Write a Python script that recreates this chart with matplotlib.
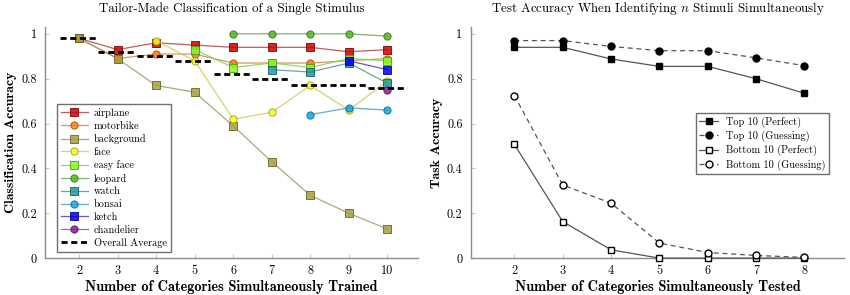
import numpy as np
import matplotlib
matplotlib.use("Agg")
import matplotlib.pyplot as plt
from matplotlib.colors import to_rgb

plt.rcParams["font.family"] = "cmr10"
plt.rcParams["mathtext.fontset"] = "cm"
plt.rcParams["axes.formatter.use_mathtext"] = True

# ---- left panel data ----
names = ["airplane", "motorbike", "background", "face", "easy face",
         "leopard", "watch", "bonsai", "ketch", "chandelier"]
start_at = [2, 2, 2, 4, 5, 6, 7, 8, 9, 10]
airplane = [0.98, 0.93, 0.96, 0.95, 0.94, 0.94, 0.94, 0.92, 0.93]
motorbike = [0.98, 0.89, 0.91, 0.91, 0.87, 0.87, 0.87, 0.88, 0.89]
background = [0.98, 0.89, 0.77, 0.74, 0.59, 0.43, 0.28, 0.20, 0.13]
face = [0.97, 0.88, 0.62, 0.65, 0.77, 0.66, 0.79]
easy_face = [0.93, 0.85, 0.87, 0.85, 0.89, 0.88]
leopard = [1.00, 1.00, 1.00, 1.00, 0.99]
watch = [0.84, 0.83, 0.87, 0.78]
bonsai = [0.64, 0.67, 0.66]
ketch = [0.88, 0.84]
chandelier = [0.75]
series = [airplane, motorbike, background, face, easy_face,
          leopard, watch, bonsai, ketch, chandelier]
markers = ["s", "o", "s", "o", "s", "o", "s", "o", "s", "o"]
colors = ["#d00000", "#ff7f0e", "#a8a040", "#ffff20", "#80ff20",
          "#50b820", "#239a9a", "#10a8e8", "#0000f0", "#8a1a9a"]
trained = [2, 3, 4, 5, 6, 7, 8, 9, 10]
overall_avg = [0.98, 0.92, 0.90, 0.88, 0.82, 0.80, 0.77, 0.77, 0.76]

# ---- right panel data ----
tested = [2, 3, 4, 5, 6, 7, 8]
top_perfect = [0.94, 0.94, 0.888, 0.855, 0.855, 0.80, 0.735]
top_guess = [0.97, 0.97, 0.944, 0.925, 0.925, 0.893, 0.858]
bot_perfect = [0.507, 0.163, 0.037, 0.0, 0.0, 0.0, 0.0]
bot_guess = [0.725, 0.326, 0.245, 0.067, 0.025, 0.012, 0.003]

yticks = [0, 0.2, 0.4, 0.6, 0.8, 1]
ytick_labels = ["0", "0.2", "0.4", "0.6", "0.8", "1"]


def mix(c, other, t):
    a = np.array(to_rgb(c))
    b = np.array(to_rgb(other))
    return tuple(a * (1 - t) + b * t)


def style_axes(ax, xt):
    for s in ("top", "right"):
        ax.spines[s].set_visible(False)
    for s in ("left", "bottom"):
        ax.spines[s].set_color("#8c8c8c")
        ax.spines[s].set_linewidth(1.0)
    ax.set_xticks(xt)
    ax.set_xticklabels([str(v) for v in xt])
    ax.set_yticks(yticks)
    ax.set_yticklabels(ytick_labels)
    ax.tick_params(direction="in", length=3, color="#c8c8c8",
                   labelsize=8.8)
    ax.tick_params(axis="y", pad=6)
    ax.tick_params(axis="x", pad=5)
    ax.set_ylim(0, 1.03)
    ax.yaxis.set_label_coords(-0.076, 0.5)


fig = plt.figure(figsize=(8.5, 2.95), dpi=100)
ax1 = fig.add_axes([0.053, 0.125, 0.439, 0.783])
ax2 = fig.add_axes([0.554, 0.125, 0.439, 0.783])

# left
for name, st, vals, m, c in zip(names, start_at, series, markers, colors):
    xs = list(range(st, st + len(vals)))
    ax1.plot(xs, vals, color=mix(c, "#909090", 0.45), lw=0.9, alpha=0.85,
             marker=m, ms=5.2, mfc=c, mec=mix(c, "#000000", 0.4), mew=0.7,
             label=name, zorder=3)
ax1.hlines(overall_avg, np.array(trained) - 0.5, np.array(trained) + 0.5,
           colors="black", linestyles=(0, (2.2, 1.3)), lw=2.0, zorder=4)
ax1.plot([], [], color="black", ls=(0, (2.2, 1.3)), lw=2.0,
         label="Overall Average")
style_axes(ax1, trained)
ax1.set_xlim(1.12, 10.8)
ax1.set_title("Tailor-Made Classification of a Single Stimulus",
              fontsize=9.3, pad=11)
ax1.set_xlabel("Number of Categories Simultaneously Trained",
               family="cmb10", fontsize=10.3, labelpad=2)
ax1.set_ylabel("Classification Accuracy", family="cmb10", fontsize=10.0)
leg1 = ax1.legend(loc="lower left", bbox_to_anchor=(0.032, 0.026),
                  borderaxespad=0, fontsize=7.4, fancybox=False,
                  edgecolor="#707070", handlelength=2.6, numpoints=1,
                  labelspacing=0.32, handletextpad=0.6, borderpad=0.4,
                  framealpha=1)
leg1.get_frame().set_linewidth(1.0)

# right
ax2.plot(tested, top_perfect, color="#555555", lw=0.9, marker="s", ms=5,
         mfc="black", mec="black", label="Top 10 (Perfect)", clip_on=False,
         zorder=3)
ax2.plot(tested, top_guess, color="#555555", lw=0.9, ls=(0, (4, 3)),
         marker="o", ms=5, mfc="black", mec="black",
         label="Top 10 (Guessing)", clip_on=False, zorder=3)
ax2.plot(tested, bot_perfect, color="#555555", lw=0.9, marker="s", ms=5,
         mfc="white", mec="black", mew=1.0, label="Bottom 10 (Perfect)",
         clip_on=False, zorder=3)
ax2.plot(tested, bot_guess, color="#555555", lw=0.9, ls=(0, (4, 3)),
         marker="o", ms=5, mfc="white", mec="black", mew=1.0,
         label="Bottom 10 (Guessing)", clip_on=False, zorder=3)
style_axes(ax2, tested)
ax2.set_xlim(1.1, 8.82)
ax2.set_title(r"Test Accuracy When Identifying $n$ Stimuli Simultaneously",
              fontsize=9.3, pad=11)
ax2.set_xlabel("Number of Categories Simultaneously Tested",
               family="cmb10", fontsize=10.3, labelpad=2)
ax2.set_ylabel("Task Accuracy", family="cmb10", fontsize=10.0)
leg2 = ax2.legend(loc="upper right", bbox_to_anchor=(0.96, 0.628),
                  borderaxespad=0, fontsize=7.4, fancybox=False,
                  edgecolor="#707070", handlelength=1.8, numpoints=1,
                  labelspacing=0.28, handletextpad=0.8, borderpad=0.35,
                  framealpha=1)
leg2.get_frame().set_linewidth(1.0)

fig.savefig("out.png", dpi=100)
